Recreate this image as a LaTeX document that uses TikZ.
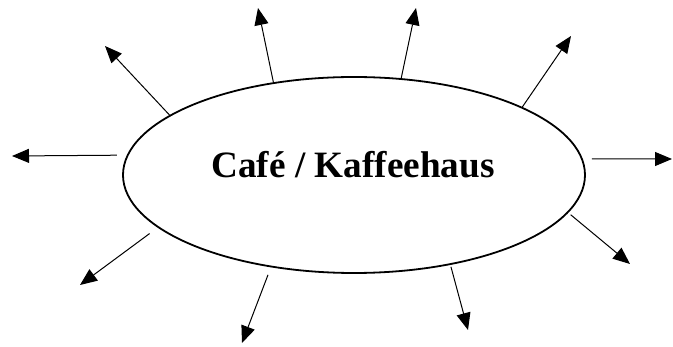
\documentclass[tikz,border=0pt]{standalone}
\usepackage{fontspec}
\setmainfont{Liberation Serif}
\usetikzlibrary{arrows.meta, shapes.geometric}
\tikzset{
  >={Triangle[length=17pt,width=14pt]},
  hub/.style={draw, ellipse, line width=1.8pt, minimum width=462pt, minimum height=196pt, inner sep=0},
  title/.style={font=\fontsize{37.2}{40}\selectfont\bfseries},
  spoke/.style={->, line width=1pt}
}

\begin{document}
\begin{tikzpicture}[x=1pt, y=-1pt]
    \useasboundingbox (0,0) rectangle (673,347);

    % Draw the ellipse
    \node[hub] (cafe) at (354,175) {};
    \node[title] (name) at (353,165) {Café / Kaffeehaus};

    % Arrow tips
    \coordinate (e1) at (12,156);
    \coordinate (e2) at (105,46);
    \coordinate (e3) at (258,8);
    \coordinate (e4) at (416,8);
    \coordinate (e5) at (571,36);
    \coordinate (e6) at (672,159);
    \coordinate (e7) at (630,264);
    \coordinate (e8) at (468,330);
    \coordinate (e9) at (242,343);
    \coordinate (e10) at (80,285);

    % Draw the arrows
    \draw[spoke, shorten <=10pt] (cafe.175) -- (e1);
    \draw[spoke] (cafe.162) -- (e2);
    \draw[spoke] (cafe.131) -- (e3);
    \draw[spoke] (cafe.64) -- (e4);
    \draw[spoke] (cafe.22) -- (e5);
    \draw[spoke, shorten <=9pt] (cafe.4) -- (e6);
    \draw[spoke, shorten <=3pt] (cafe.-10) -- (e7);
    \draw[spoke, shorten <=2pt] (cafe.-43) -- (e8);
    \draw[spoke, shorten <=8pt] (cafe.228) -- (e9);
    \draw[spoke, shorten <=10pt] (cafe.195) -- (e10);
\end{tikzpicture}
\end{document}
